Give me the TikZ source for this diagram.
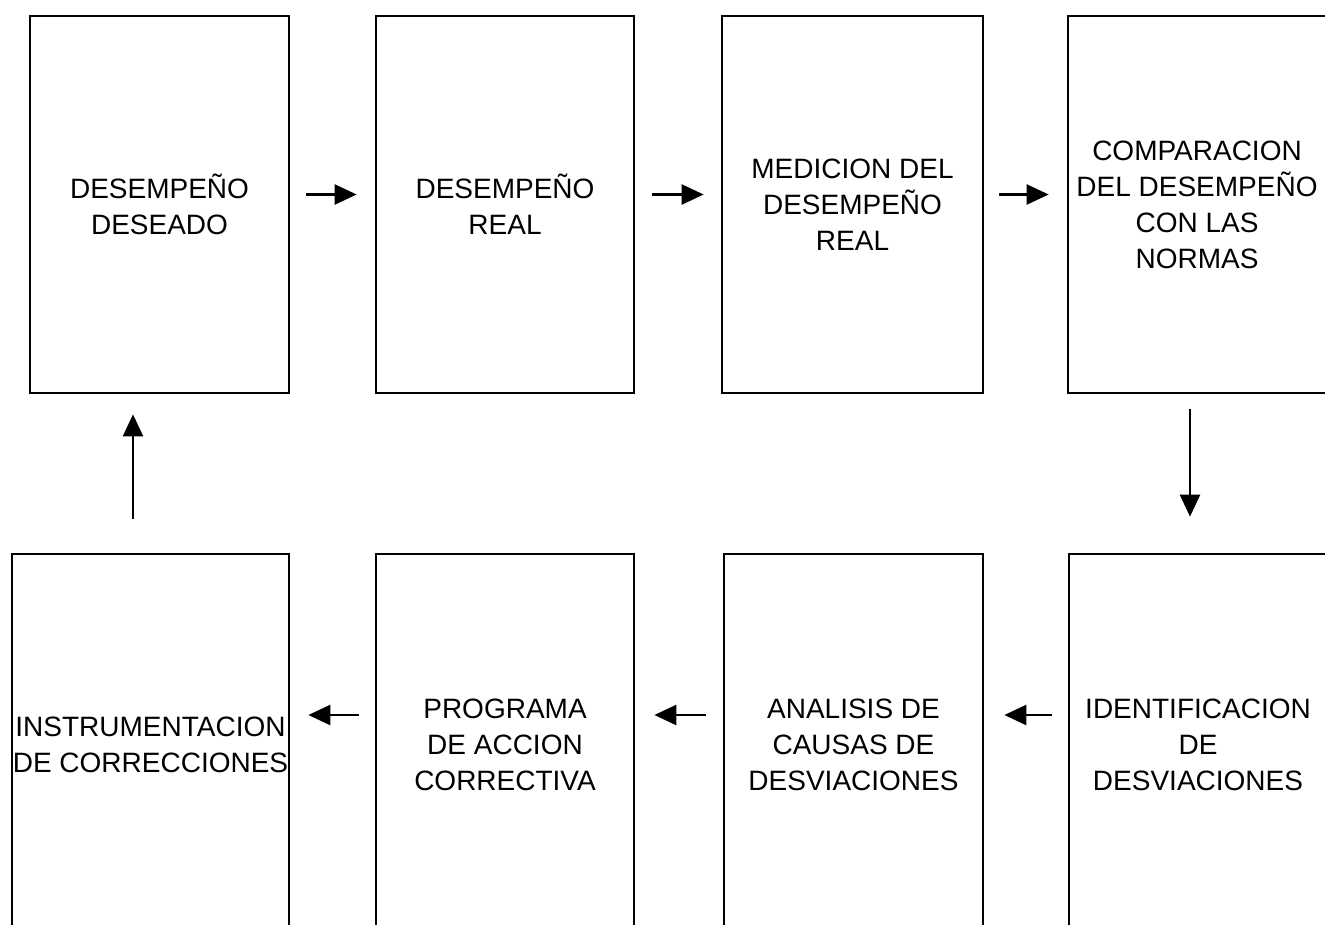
\documentclass[tikz,border=0pt]{standalone}
\usepackage{fontspec}
\setmainfont{Liberation Sans}
\usetikzlibrary{arrows.meta}

\tikzset{
  etapa/.style={draw, line width=2.7pt, inner sep=0pt, minimum width=258pt,
    minimum height=377pt, align=center, font=\fontsize{28pt}{36pt}\selectfont},
  etapabaja/.style={etapa, minimum height=382pt},
  flecha/.style={line width=2.4pt, -{Triangle[length=22pt,width=20pt]}}
}

\begin{document}
\begin{tikzpicture}[x=1pt, y=-1pt]
    \useasboundingbox (0,0) rectangle (1325,924);
    \clip (0,0) rectangle (1325,924);

    % upper row
    \node[etapa, minimum width=259pt] (deseado) at (159.5,204.5) {DESEMPE\~NO\\DESEADO};
    \node[etapa] (real) at (505,204.5) {DESEMPE\~NO\\REAL};
    \node[etapa, minimum width=261pt] (medicion) at (852.5,204.5) {MEDICION DEL\\DESEMPE\~NO\\REAL};
    \node[etapa] (comparacion) at (1197,204.5) {COMPARACION\\DEL DESEMPE\~NO\\CON LAS\\NORMAS};

    % lower row
    \node[etapabaja, minimum width=277pt] (instrumentacion) at (150.5,745) {INSTRUMENTACION\\DE CORRECCIONES};
    \node[etapabaja] (programa) at (505,745) {PROGRAMA\\DE ACCION\\CORRECTIVA};
    \node[etapabaja, minimum width=259pt] (analisis) at (853.5,745) {ANALISIS DE\\CAUSAS DE\\DESVIACIONES};
    \node[etapabaja] (identificacion) at (1198,745) {IDENTIFICACION\\DE\\DESVIACIONES};

    % arrows, upper row
    \draw[flecha] ([xshift=16pt,yshift=10pt]deseado.east) -- ([xshift=-18pt,yshift=10pt]real.west);
    \draw[flecha] ([xshift=17pt,yshift=10pt]real.east) -- ([xshift=-17pt,yshift=10pt]medicion.west);
    \draw[flecha] ([xshift=15pt,yshift=10pt]medicion.east) -- ([xshift=-18pt,yshift=10pt]comparacion.west);

    % arrow down
    \draw[flecha] ([xshift=-7pt,yshift=-15pt]comparacion.south) -- ([xshift=-8pt,yshift=36pt]identificacion.north);

    % arrows, lower row
    \draw[flecha] ([xshift=-16pt,yshift=30pt]identificacion.west) -- ([xshift=20pt,yshift=30pt]analisis.east);
    \draw[flecha] ([xshift=-17pt,yshift=30pt]analisis.west) -- ([xshift=19pt,yshift=30pt]programa.east);
    \draw[flecha] ([xshift=-16pt,yshift=30pt]programa.west) -- ([xshift=18pt,yshift=30pt]instrumentacion.east);

    % arrow up
    \draw[flecha] ([xshift=-17.5pt,yshift=34pt]instrumentacion.north) -- ([xshift=-26.5pt,yshift=-20pt]deseado.south);
\end{tikzpicture}
\end{document}
